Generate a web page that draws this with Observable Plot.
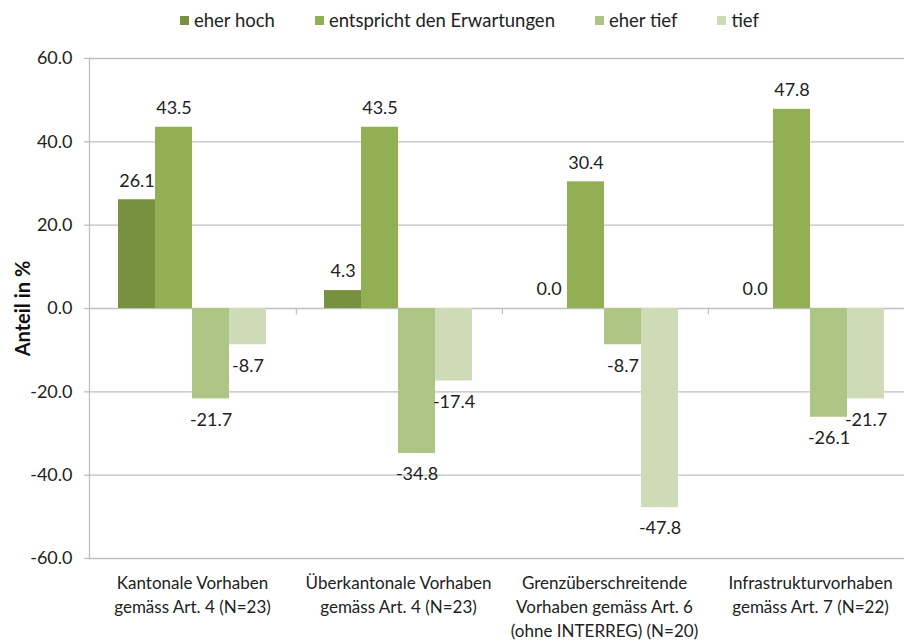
<!DOCTYPE html>
<html>
<head>
<meta charset="utf-8">
<script src="https://cdn.jsdelivr.net/npm/d3@7"></script>
<script src="https://cdn.jsdelivr.net/npm/@observablehq/plot@0.6"></script>
<style>
  body { margin: 0; background: #fff; font-family: Lato, "Open Sans", sans-serif; color: #222; }
  #legend { height: 40px; display: flex; align-items: center; justify-content: center; padding-left: 35px; box-sizing: border-box; font-size: 18.5px; }
  .item { display: flex; align-items: center; margin: 0 20px; }
  .sw { width: 9px; height: 9px; margin-right: 5px; }
  #chart svg { display: block; }
</style>
</head>
<body>
<div id="legend"></div>
<div id="chart"></div>
<script>
// ---- data ----
const categories = [
  "Kantonale Vorhaben\ngemäss Art. 4 (N=23)",
  "Überkantonale Vorhaben\ngemäss Art. 4 (N=23)",
  "Grenzüberschreitende\nVorhaben gemäss Art. 6\n(ohne INTERREG) (N=20)",
  "Infrastrukturvorhaben\ngemäss Art. 7 (N=22)"
];
const series = ["eher hoch", "entspricht den Erwartungen", "eher tief", "tief"];
const eherHoch   = [26.1, 4.3, 0.0, 0.0];
const entspricht = [43.5, 43.5, 30.4, 47.8];
const eherTief   = [-21.7, -34.8, -8.7, -26.1];
const tief       = [-8.7, -17.4, -47.8, -21.7];
const yTicks = [-60, -40, -20, 0, 20, 40, 60];
const yLabel = "Anteil in %";
const colors = ["#789140", "#92AF54", "#AEC685", "#CEDBB6"];

// ---- table ----
const seriesValues = [eherHoch, entspricht, eherTief, tief];
const rows = [];
categories.forEach((c, i) => {
  series.forEach((s, j) => rows.push({cat: c, series: s, value: seriesValues[j][i]}));
});
const fmt = v => v.toFixed(1);
const grid = "#BFBFBF";

// ---- legend ----
const legend = document.getElementById("legend");
series.forEach((s, j) => {
  const it = document.createElement("div");
  it.className = "item";
  const sw = document.createElement("div");
  sw.className = "sw";
  sw.style.background = colors[j];
  const t = document.createElement("span");
  t.textContent = s;
  it.appendChild(sw); it.appendChild(t);
  legend.appendChild(it);
});

// ---- chart ----
const chart = Plot.plot({
  width: 904,
  height: 604,
  marginTop: 18,
  marginBottom: 86,
  marginLeft: 88,
  marginRight: 0,
  style: {fontFamily: "Lato, 'Open Sans', sans-serif", color: "#222", background: "#fff"},
  fx: {domain: categories, range: [88, 914], padding: 0},
  x: {domain: series, paddingInner: 0, paddingOuter: 0.735, axis: null},
  y: {domain: [-60, 60]},
  color: {domain: series, range: colors},
  marks: [
    Plot.ruleY(yTicks, {stroke: grid, strokeWidth: 1.3}),
    Plot.frame({anchor: "left", stroke: grid, strokeWidth: 1.3, facetAnchor: "left"}),
    Plot.ruleX(categories.slice(1).map(c => ({cat: c})), {
      fx: "cat", x: () => series[0], dx: -46.6, y1: 0, y2: -1.5, stroke: grid, strokeWidth: 1.3
    }),
    Plot.barY(rows, {fx: "cat", x: "series", y1: 0, y2: "value", fill: "series"}),
    Plot.text(rows.filter(d => d.value >= 0), {
      fx: "cat", x: "series", y: "value", text: d => fmt(d.value), dy: -19, fontSize: 18, fill: "#222"
    }),
    Plot.text(rows.filter(d => d.value < 0), {
      fx: "cat", x: "series", y: "value", text: d => fmt(d.value), dy: 21, fontSize: 18, fill: "#222"
    }),
    Plot.axisY(yTicks, {tickFormat: fmt, tickSize: 5, tickPadding: 12, fontSize: 18, stroke: grid, strokeWidth: 1.3, label: null}),
    Plot.text([yLabel], {
      fx: [categories[0]], frameAnchor: "left", textAnchor: "middle", rotate: -90, dx: -66,
      fontSize: 20, fontWeight: "bold", fill: "#111"
    }),
    Plot.axisFx({anchor: "bottom", tickSize: 0, tickPadding: 14, fontSize: 17, lineHeight: 1.4, label: null})
  ]
});
document.getElementById("chart").appendChild(chart);
</script>
</body>
</html>
